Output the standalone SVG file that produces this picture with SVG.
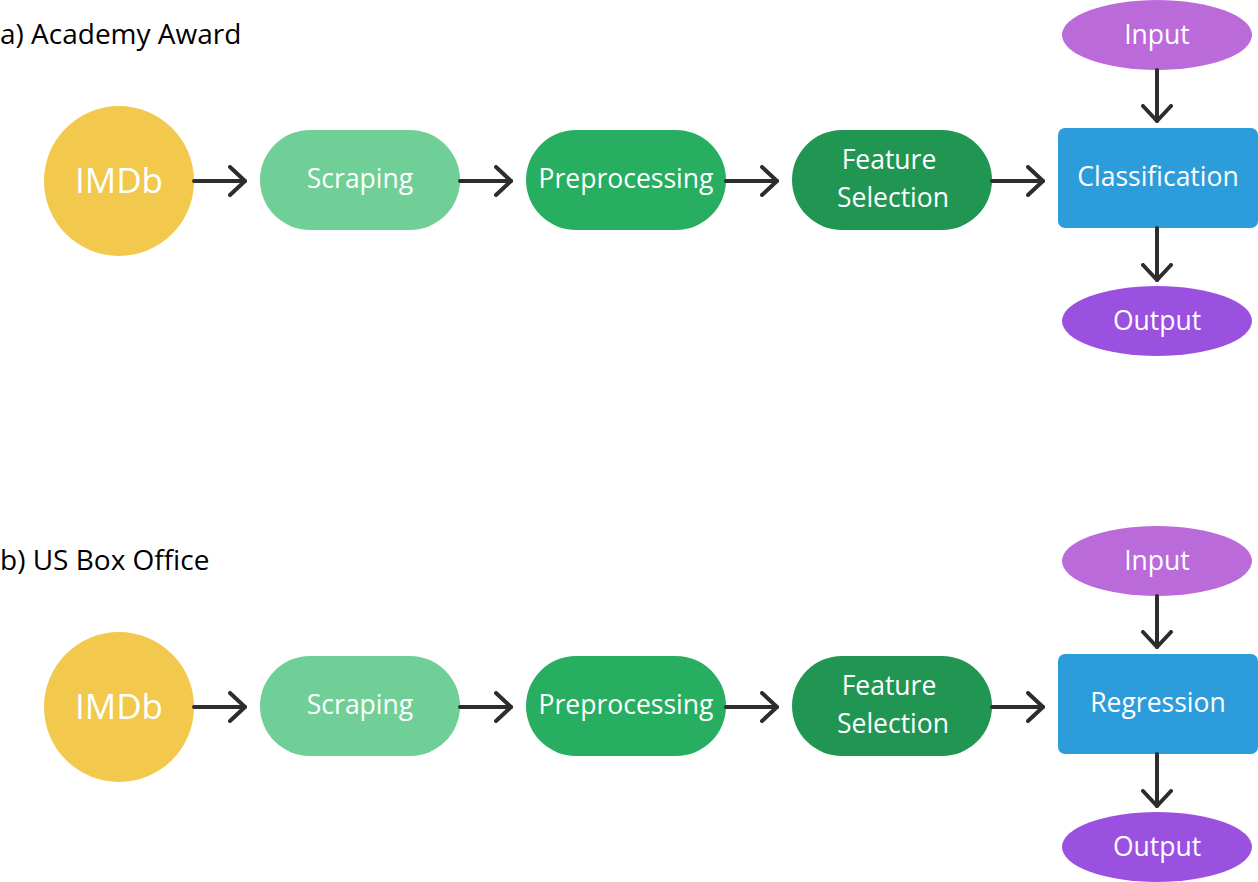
<svg xmlns="http://www.w3.org/2000/svg" width="1258" height="882" viewBox="0 0 1258 882">
<defs>
<style>
.t{font-family:"Open Sans","Noto Sans","Liberation Sans",sans-serif;fill:#fff;text-anchor:middle;font-size:26.5px}
.big{font-size:35px}
.title{font-family:"Open Sans","Noto Sans","Liberation Sans",sans-serif;fill:#000;font-size:28px}
.c{stroke:#2d2d2d;stroke-width:4;fill:none;stroke-linecap:round;stroke-linejoin:round}
</style>
<marker id="ah" viewBox="0 0 20 32" refX="17" refY="16" markerWidth="20" markerHeight="32" markerUnits="userSpaceOnUse" orient="auto">
<path d="M2,2 L17,16 L2,30" fill="none" stroke="#2d2d2d" stroke-width="4" stroke-linecap="round" stroke-linejoin="round"/>
</marker>
</defs>
<rect width="1258" height="882" fill="#fff"/>

<text class="title" x="0" y="44">a) Academy Award</text>
<text class="title" x="0" y="570">b) US Box Office</text>

<g id="a-imdb"><circle cx="119" cy="181" r="75" fill="#F2C94C"/><text class="t big" x="119" y="193">IMDb</text></g>
<g id="a-scraping"><rect x="260" y="130" width="200" height="100" rx="50" fill="#6FCF97"/><text class="t" x="360" y="188">Scraping</text></g>
<g id="a-preprocessing"><rect x="526" y="130" width="200" height="100" rx="50" fill="#27AE60"/><text class="t" x="626" y="188">Preprocessing</text></g>
<g id="a-feature"><rect x="792" y="130" width="200" height="100" rx="50" fill="#219653"/><text class="t" x="889" y="169">Feature</text><text class="t" x="893" y="207">Selection</text></g>
<g id="a-classification"><rect x="1058" y="128" width="200" height="100" rx="7" fill="#2D9CDB"/><text class="t" x="1158" y="186">Classification</text></g>
<g id="a-input"><ellipse cx="1157" cy="35" rx="95" ry="35" fill="#BB6BD9"/><text class="t" x="1157" y="44">Input</text></g>
<g id="a-output"><ellipse cx="1157" cy="321" rx="95" ry="35" fill="#9B51E0"/><text class="t" x="1157" y="330">Output</text></g>

<g id="b-imdb"><circle cx="119" cy="707" r="75" fill="#F2C94C"/><text class="t big" x="119" y="719">IMDb</text></g>
<g id="b-scraping"><rect x="260" y="656" width="200" height="100" rx="50" fill="#6FCF97"/><text class="t" x="360" y="714">Scraping</text></g>
<g id="b-preprocessing"><rect x="526" y="656" width="200" height="100" rx="50" fill="#27AE60"/><text class="t" x="626" y="714">Preprocessing</text></g>
<g id="b-feature"><rect x="792" y="656" width="200" height="100" rx="50" fill="#219653"/><text class="t" x="889" y="695">Feature</text><text class="t" x="893" y="733">Selection</text></g>
<g id="b-regression"><rect x="1058" y="654" width="200" height="100" rx="7" fill="#2D9CDB"/><text class="t" x="1158" y="712">Regression</text></g>
<g id="b-input"><ellipse cx="1157" cy="561" rx="95" ry="35" fill="#BB6BD9"/><text class="t" x="1157" y="570">Input</text></g>
<g id="b-output"><ellipse cx="1157" cy="847" rx="95" ry="35" fill="#9B51E0"/><text class="t" x="1157" y="856">Output</text></g>

<g id="connectors" class="c">
<line class="c" x1="194" y1="181" x2="245" y2="181" marker-end="url(#ah)"/>
<line class="c" x1="460" y1="181" x2="511" y2="181" marker-end="url(#ah)"/>
<line class="c" x1="726" y1="181" x2="777" y2="181" marker-end="url(#ah)"/>
<line class="c" x1="992" y1="181" x2="1043" y2="181" marker-end="url(#ah)"/>
<line class="c" x1="1157" y1="70" x2="1157" y2="121" marker-end="url(#ah)"/>
<line class="c" x1="1157" y1="228" x2="1157" y2="280" marker-end="url(#ah)"/>
<line class="c" x1="194" y1="707" x2="245" y2="707" marker-end="url(#ah)"/>
<line class="c" x1="460" y1="707" x2="511" y2="707" marker-end="url(#ah)"/>
<line class="c" x1="726" y1="707" x2="777" y2="707" marker-end="url(#ah)"/>
<line class="c" x1="992" y1="707" x2="1043" y2="707" marker-end="url(#ah)"/>
<line class="c" x1="1157" y1="596" x2="1157" y2="647" marker-end="url(#ah)"/>
<line class="c" x1="1157" y1="754" x2="1157" y2="806" marker-end="url(#ah)"/>
</g>
</svg>
